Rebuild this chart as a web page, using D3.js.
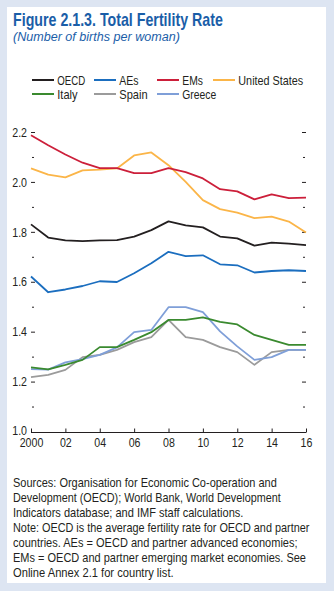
<!DOCTYPE html>
<html><head><meta charset="utf-8">
<script src="https://cdn.jsdelivr.net/npm/d3@7"></script>
<style>
html,body{margin:0;padding:0;background:#dde5f2;}
svg{display:block;}
text{font-family:"Liberation Sans Narrow","Arial Narrow","Liberation Sans",sans-serif;}
</style></head>
<body>
<script>
const years = d3.range(2000, 2017);
const oecd = [1.832,1.779,1.768,1.765,1.768,1.769,1.783,1.809,1.844,1.828,1.820,1.783,1.776,1.747,1.759,1.755,1.749];
const aes  = [1.623,1.560,1.571,1.585,1.604,1.601,1.636,1.676,1.722,1.705,1.708,1.672,1.668,1.639,1.645,1.648,1.645];
const ems  = [2.189,2.149,2.112,2.079,2.057,2.057,2.037,2.037,2.057,2.041,2.016,1.973,1.964,1.932,1.952,1.937,1.939];
const us   = [2.056,2.031,2.020,2.048,2.051,2.056,2.108,2.120,2.069,2.002,1.929,1.893,1.879,1.857,1.863,1.843,1.799];
const italy  = [1.259,1.251,1.269,1.289,1.340,1.340,1.369,1.400,1.449,1.449,1.459,1.441,1.431,1.389,1.369,1.349,1.349];
const spain  = [1.220,1.229,1.249,1.300,1.309,1.329,1.360,1.380,1.449,1.380,1.369,1.340,1.320,1.269,1.320,1.329,1.329];
const greece = [1.252,1.250,1.279,1.292,1.309,1.339,1.400,1.409,1.500,1.500,1.480,1.403,1.343,1.289,1.300,1.329,1.329];
const seriesNames = ["OECD","AEs","EMs","United States","Italy","Spain","Greece"];
const yTicks = [1.0,1.2,1.4,1.6,1.8,2.0,2.2];
const xTickLabels = ["2000","02","04","06","08","10","12","14","16"];
const title = "Figure 2.1.3.  Total Fertility Rate";
const subtitle = "(Number of births per woman)";
const notes = [
 "Sources: Organisation for Economic Co-operation and",
 "Development (OECD); World Bank, World Development",
 "Indicators database; and IMF staff calculations.",
 "Note: OECD is the average fertility rate for OECD and partner",
 "countries. AEs = OECD and partner advanced economies;",
 "EMs = OECD and partner emerging market economies. See",
 "Online Annex 2.1 for country list."
];

const series = [
 {name:seriesNames[0], values:oecd, color:"#231f20"},
 {name:seriesNames[1], values:aes, color:"#1b6ebf"},
 {name:seriesNames[2], values:ems, color:"#cc1f3a"},
 {name:seriesNames[3], values:us, color:"#fbb548"},
 {name:seriesNames[4], values:italy, color:"#3a8a2f"},
 {name:seriesNames[5], values:spain, color:"#9b9b9b"},
 {name:seriesNames[6], values:greece, color:"#7f9fd8"}
];

const W=334,H=591;
const svg = d3.select("body").append("svg").attr("width",W).attr("height",H);
svg.append("rect").attr("x",7).attr("y",7).attr("width",319).attr("height",576).attr("fill","#fff");

// place a text at (px,py) and squeeze it horizontally to width w (or by factor k)
function placeFit(sel, px, py, w){
  const L = sel.node().getComputedTextLength();
  sel.attr("x",0).attr("y",0).attr("transform",`translate(${px},${py}) scale(${w/L},1)`);
  return sel;
}
function squeezeInPlace(sel, k){
  sel.each(function(){ d3.select(this).attr("transform",`scale(${k},1)`); });
  return sel;
}

placeFit(svg.append("text").attr("fill","#1a5ea8")
  .attr("font-size",17.5).attr("font-weight","bold").text(title), 13, 26, 210);
placeFit(svg.append("text").attr("fill","#1a5ea8")
  .attr("font-size",13.5).attr("font-style","italic").text(subtitle), 13, 41, 167);

// legend
const legPos = [[32,80],[94,80],[157,80],[213,80],[32,94],[94,94],[157,94]];
const legW = [28,19.3,20.7,65,20.3,28.3,34];
series.forEach((s,i)=>{
  const [lx,ly]=legPos[i];
  svg.append("line").attr("x1",lx).attr("x2",lx+22).attr("y1",ly).attr("y2",ly)
    .attr("stroke",s.color).attr("stroke-width",2);
  placeFit(svg.append("text").attr("font-size",13).attr("fill","#231f20").text(s.name), lx+25.3, ly+4.5, legW[i]);
});

const x = d3.scaleLinear().domain([2000,2016]).range([31,306]);
const y = d3.scaleLinear().domain([1.0,2.2]).range([432,132.5]);

// y ticks on both sides (inside)
const minor = d3.range(1.1,2.25,0.1).map(v=>+v.toFixed(1));
minor.forEach(v=>{
  const isMajor = Math.round(v*10)%2===0;
  const len = isMajor?4:2;
  svg.append("line").attr("x1",isMajor?31:32).attr("x2",(isMajor?31:32)+len)
    .attr("y1",y(v)).attr("y2",y(v)).attr("stroke","#231f20").attr("stroke-width",1);
  svg.append("line").attr("x1",306-len-(isMajor?0:1)).attr("x2",306-(isMajor?0:1))
    .attr("y1",y(v)).attr("y2",y(v)).attr("stroke","#231f20").attr("stroke-width",1);
});
yTicks.forEach(v=>{
  const t = svg.append("text").attr("text-anchor","end")
    .attr("font-size",12.5).attr("fill","#231f20").text(v.toFixed(1));
  const L = t.node().getComputedTextLength();
  placeFit(t, 27, y(v)+4.2 - (v===1.0?0.8:0), L*0.85);
});

// x axis
const xAxis = d3.axisBottom(x).tickValues(d3.range(2000,2017,2)).tickSize(-4).tickFormat((d,i)=>xTickLabels[i]).tickPadding(6);
const gx = svg.append("g").attr("transform","translate(0,432.5)").call(xAxis);
gx.select(".domain").attr("stroke","#231f20").attr("d","M31,0H306");
gx.selectAll(".tick line").attr("stroke","#231f20");
squeezeInPlace(gx.selectAll(".tick text").attr("font-size",12.5).attr("fill","#231f20")
  .attr("font-family",'"Liberation Sans Narrow","Arial Narrow","Liberation Sans",sans-serif'), 0.85);

const line = d3.line().x((d,i)=>x(years[i])).y(d=>y(d));
const order = [5,6,4,1,0,3,2];
order.forEach(i=>{
  const s=series[i];
  svg.append("path").attr("d",line(s.values)).attr("fill","none")
    .attr("stroke",s.color).attr("stroke-width",1.8).attr("stroke-linejoin","round");
});

const noteW = [264,268,230.7,296.7,284.7,293.3,160.7];
notes.forEach((t,i)=>{
  placeFit(svg.append("text").attr("font-size",12.8).attr("fill","#231f20").text(t), 13, 487.3+i*14.9, noteW[i]);
});
</script>
</body></html>
